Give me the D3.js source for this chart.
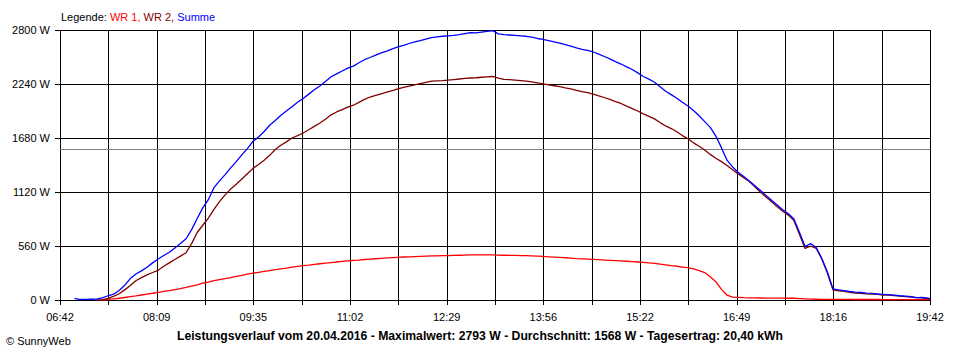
<!DOCTYPE html>
<html><head><meta charset="utf-8">
<script src="https://cdn.jsdelivr.net/npm/d3@7"></script>
<style>
body{margin:0;background:#fff}
svg{display:block}
text{font-family:"Liberation Sans",Arial,sans-serif}
</style>
</head><body><svg id="c" width="960" height="360"></svg>
<script>
// ---- data ----
const domainStart = "06:42", domainEnd = "19:42";
const times = [
 "06:42","06:45","06:50","06:55",
 "07:00","07:05","07:10","07:15","07:20","07:25","07:30","07:35","07:40","07:45","07:50","07:55",
 "08:00","08:05","08:10","08:15","08:20","08:25","08:30","08:35","08:40","08:45","08:50","08:55",
 "09:00","09:05","09:10","09:15","09:20","09:25","09:30","09:35","09:40","09:45","09:50","09:55",
 "10:00","10:05","10:10","10:15","10:20","10:25","10:30","10:35","10:40","10:45","10:50","10:55",
 "11:00","11:05","11:10","11:15","11:20","11:25","11:30","11:35","11:40","11:45","11:50","11:55",
 "12:00","12:05","12:10","12:15","12:20","12:25","12:30","12:35","12:40","12:45","12:50","12:55",
 "13:00","13:05","13:10","13:15","13:20","13:25","13:30","13:35","13:40","13:45","13:50","13:55",
 "14:00","14:05","14:10","14:15","14:20","14:25","14:30","14:35","14:40","14:45","14:50","14:55",
 "15:00","15:05","15:10","15:15","15:20","15:25","15:30","15:35","15:40","15:45","15:50","15:55",
 "16:00","16:05","16:10","16:15","16:20","16:25","16:30","16:35","16:40","16:45","16:50","16:55",
 "17:00","17:05","17:10","17:15","17:20","17:25","17:30","17:35","17:40","17:45","17:50","17:55",
 "18:00","18:05","18:10","18:15","18:20","18:25","18:30","18:35","18:40","18:45","18:50","18:55",
 "19:00","19:05","19:10","19:15","19:20","19:25","19:30","19:35","19:40","19:42"
];
const wr1 = [
 null,null,null,null,
 null,null,null,null,0,6,12,18,26,34,42,52,
 62,70,80,90,98,108,118,130,145,158,175,186,
 200,212,222,232,245,255,268,278,287,296,305,314,
 322,330,340,348,356,362,370,376,382,388,394,400,
 406,410,414,420,424,428,432,436,440,443,446,448,
 450,452,455,457,458,460,460,462,464,466,467,467,
 467,467,467,465,464,463,462,461,460,458,456,452,
 448,445,442,438,435,430,427,424,422,418,414,411,
 408,405,402,398,394,390,385,380,373,365,356,350,
 342,335,322,305,285,240,190,110,50,30,28,24,
 22,21,21,20,20,19,19,18,18,15,12,9,
 8,7,7,7,6,6,6,5,5,5,5,5,
 4,4,4,4,4,3,3,3,3,3
];
const wr2 = [
 null,null,null,null,
 null,null,null,0,2,18,38,65,105,150,200,232,
 260,285,308,350,385,420,455,490,585,700,775,850,
 940,1020,1090,1150,1200,1255,1310,1365,1405,1450,1500,1560,
 1605,1640,1680,1705,1732,1765,1800,1835,1875,1920,1950,1975,
 2000,2020,2050,2080,2105,2122,2138,2155,2172,2190,2205,2218,
 2232,2245,2258,2270,2272,2275,2280,2286,2292,2298,2302,2305,
 2310,2314,2318,2300,2288,2285,2280,2276,2270,2262,2252,2242,
 2232,2222,2212,2200,2190,2175,2162,2150,2135,2118,2100,2080,
 2058,2038,2010,1985,1960,1930,1905,1878,1840,1805,1778,1745,
 1705,1672,1630,1595,1555,1510,1470,1435,1395,1350,1308,1268,
 1228,1175,1118,1068,1018,968,920,880,825,680,535,560,
 535,425,280,105,96,90,80,72,70,64,60,58,
 52,50,46,40,36,30,24,22,15,12
];
const summe = [
 null,null,null,18,
 5,6,8,10,22,44,60,98,152,222,270,302,
 340,385,425,462,495,540,585,635,730,845,955,1040,
 1165,1235,1300,1370,1435,1505,1570,1645,1690,1748,1812,1862,
 1915,1960,2005,2050,2090,2135,2180,2220,2265,2315,2345,2375,
 2405,2425,2460,2492,2515,2540,2562,2580,2605,2625,2640,2660,
 2678,2690,2705,2720,2728,2735,2740,2745,2752,2762,2772,2770,
 2778,2785,2793,2760,2752,2748,2745,2740,2735,2725,2712,2702,
 2690,2678,2665,2648,2632,2615,2600,2588,2572,2550,2525,2500,
 2472,2447,2418,2390,2355,2318,2290,2258,2212,2165,2130,2092,
 2050,2012,1965,1910,1850,1790,1700,1580,1450,1380,1325,1280,
 1235,1185,1135,1085,1035,985,935,895,840,700,555,585,
 545,430,290,115,105,98,88,82,78,72,68,62,
 58,55,50,44,40,35,25,28,18,14
];
const yTicks = [0, 560, 1120, 1680, 2240, 2800];
const xTickLabels = ["06:42","08:09","09:35","11:02","12:29","13:56","15:22","16:49","18:16","19:42"];
const average = 1568;
const legendItems = [
  {label: "WR 1", color: "#ff0000"},
  {label: "WR 2", color: "#800000"},
  {label: "Summe", color: "#0000ff"}
];
const footer = "Leistungsverlauf vom 20.04.2016 - Maximalwert: 2793 W - Durchschnitt: 1568 W - Tagesertrag: 20,40 kWh";

// ---- chart ----
const svg = d3.select("#c");
const parse = d3.timeParse("%H:%M");
const pL = 60, pR = 930, pT = 30, pB = 300;
const x = d3.scaleTime().domain([parse(domainStart), parse(domainEnd)]).range([pL, pR]);
const y = d3.scaleLinear().domain([0, 2800]).range([pB, pT]);

const d0 = +x.domain()[0], d1 = +x.domain()[1];
const gridTimes = d3.range(19).map(i => new Date(d0 + i * (d1 - d0) / 18));
const snap = v => Math.round(v) + 0.5;

const grid = svg.append("g").attr("stroke", "#000").attr("stroke-width", 1).attr("shape-rendering", "crispEdges");
grid.selectAll("line.v").data(gridTimes).join("line").attr("class", "v")
  .attr("x1", d => snap(x(d))).attr("x2", d => snap(x(d)))
  .attr("y1", y(2800)).attr("y2", y(0) + 5);
grid.selectAll("line.h").data(yTicks).join("line").attr("class", "h")
  .attr("x1", pL - 5).attr("x2", pR + 0.5)
  .attr("y1", d => snap(y(d))).attr("y2", d => snap(y(d)));

svg.append("g").selectAll("text").data(yTicks).join("text")
  .attr("x", pL - 10).attr("y", d => y(d) + 4)
  .attr("text-anchor", "end").attr("font-size", 11).attr("fill", "#000")
  .text(d => d + " W");

svg.append("g").selectAll("text").data(xTickLabels).join("text")
  .attr("x", (d, i) => x(gridTimes[i * 2])).attr("y", 320.5)
  .attr("text-anchor", "middle").attr("font-size", 11).attr("fill", "#000")
  .text(d => d);

// average line
svg.append("line").attr("x1", pL).attr("x2", pR)
  .attr("y1", snap(y(average))).attr("y2", snap(y(average)))
  .attr("stroke", "#808080").attr("stroke-width", 1).attr("shape-rendering", "crispEdges");

const series = [wr1, wr2, summe];
const line = d3.line().defined(d => d[1] != null).x(d => x(parse(d[0]))).y(d => y(d[1]));
series.forEach((vals, k) => {
  svg.append("path")
    .datum(times.map((t, i) => [t, vals[i]]))
    .attr("fill", "none").attr("stroke", legendItems[k].color)
    .attr("stroke-width", 1.3).attr("stroke-linejoin", "round")
    .attr("d", line);
});

// legend
const lg = svg.append("text").attr("x", 61).attr("y", 20.5).attr("font-size", 11);
lg.append("tspan").attr("fill", "#000").text("Legende: ");
legendItems.forEach((it, i) => {
  lg.append("tspan").attr("fill", it.color).text(it.label + (i < legendItems.length - 1 ? ", " : ""));
});

svg.append("text").attr("x", 480).attr("y", 340).attr("text-anchor", "middle")
  .attr("font-size", 12.2).attr("font-weight", "bold").attr("fill", "#000").text(footer);

svg.append("text").attr("x", 6).attr("y", 344.5).attr("font-size", 11).attr("fill", "#000").text("\u00A9 SunnyWeb");
</script>
</body></html>
